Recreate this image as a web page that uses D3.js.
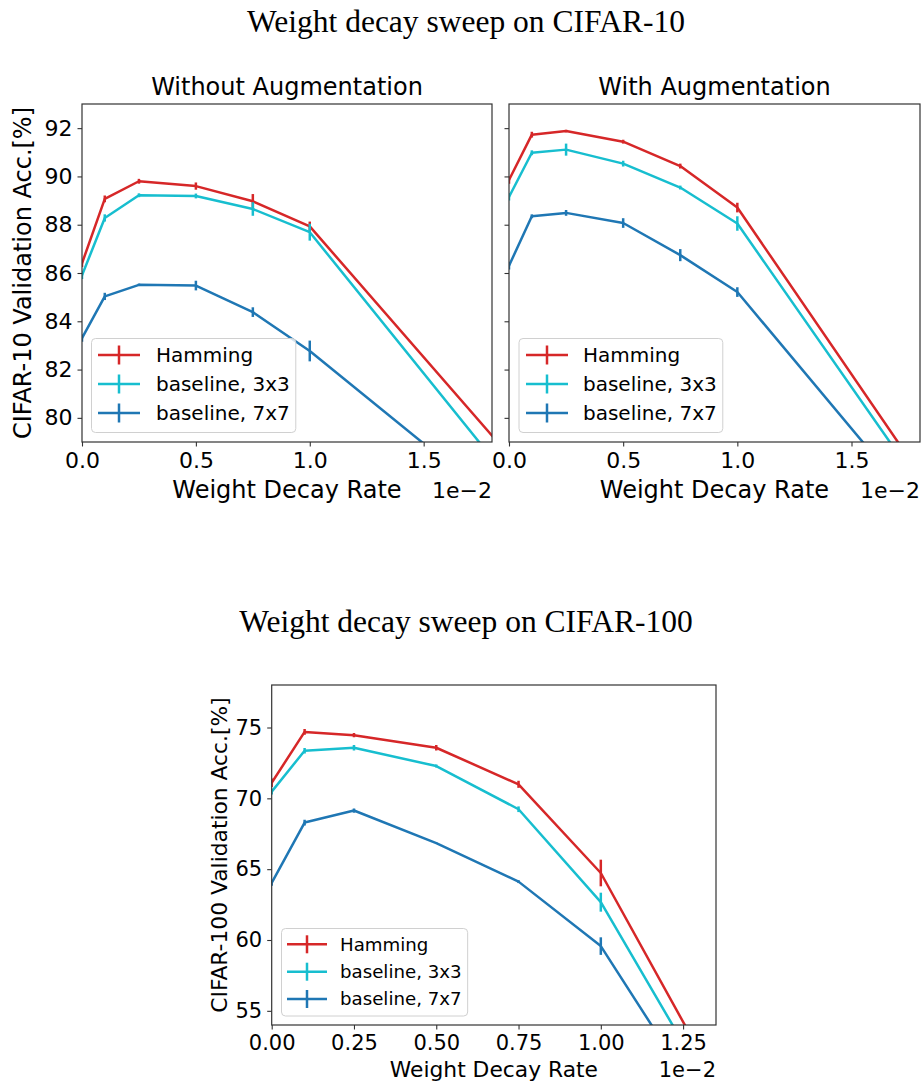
<!DOCTYPE html>
<html>
<head>
<meta charset="utf-8">
<script src="https://cdn.jsdelivr.net/npm/d3@7"></script>
<style>
  html, body { margin: 0; padding: 0; background: #fff; }
  svg { display: block; }
  text { font-family: "DejaVu Sans", sans-serif; fill: #000; }
</style>
</head>
<body>
<svg id="chart" width="922" height="1084"></svg>
<script>
// ---------- data (x in units of 1e-2) ----------
const decayRates = [0, 0.1, 0.25, 0.5, 0.75, 1.0, 2.0];
const seriesNames = ["Hamming", "baseline, 3x3", "baseline, 7x7"];
const seriesColors = ["#d62728", "#17becf", "#1f77b4"];

// CIFAR-10, without augmentation
const c10NoAugHamming   = [86.4, 89.07, 89.8, 89.6, 88.97, 87.93, 77.1];
const c10NoAugHammingErr= [0.15, 0.14, 0.1, 0.15, 0.3, 0.2, 0];
const c10NoAug3x3       = [85.9, 88.28, 89.22, 89.19, 88.65, 87.69, 76.0];
const c10NoAug3x3Err    = [0.15, 0.15, 0.08, 0.1, 0.28, 0.35, 0];
const c10NoAug7x7       = [83.3, 85.03, 85.51, 85.48, 84.38, 82.77, 75.1];
const c10NoAug7x7Err    = [0.15, 0.15, 0.05, 0.2, 0.2, 0.43, 0];

// CIFAR-10, with augmentation
const c10AugHamming     = [89.85, 91.73, 91.88, 91.44, 90.43, 88.71, 74.9];
const c10AugHammingErr  = [0.15, 0.12, 0.05, 0.08, 0.1, 0.2, 0];
const c10Aug3x3         = [89.15, 90.98, 91.11, 90.53, 89.54, 88.05, 74.5];
const c10Aug3x3Err      = [0.15, 0.1, 0.25, 0.12, 0.08, 0.3, 0];
const c10Aug7x7         = [86.3, 88.35, 88.49, 88.07, 86.74, 85.21, 73.9];
const c10Aug7x7Err      = [0.15, 0.08, 0.12, 0.2, 0.25, 0.2, 0];

// CIFAR-100
const c100Hamming       = [71.1, 74.69, 74.46, 73.57, 70.99, 64.73, 22.7];
const c100HammingErr    = [0.3, 0.2, 0.15, 0.2, 0.25, 0.94, 0];
const c1003x3           = [70.47, 73.36, 73.57, 72.28, 69.23, 62.67, 22.9];
const c1003x3Err        = [0.2, 0.2, 0.2, 0.1, 0.2, 0.67, 0];
const c1007x7           = [64.03, 68.29, 69.14, 66.84, 64.12, 59.57, 23.4];
const c1007x7Err        = [0.2, 0.2, 0.15, 0.05, 0.1, 0.62, 0];

const c10XTicks = [0, 0.5, 1.0, 1.5];
const c10YTicks = [80, 82, 84, 86, 88, 90, 92];
const c100XTicks = [0, 0.25, 0.5, 0.75, 1.0, 1.25];
const c100YTicks = [55, 60, 65, 70, 75];

const mainTitles = ["Weight decay sweep on CIFAR-10", "Weight decay sweep on CIFAR-100"];
const panelTitles = ["Without Augmentation", "With Augmentation"];
const xLabel = "Weight Decay Rate";
const offsetText = "1e\u22122";
const c10YLabel = "CIFAR-10 Validation Acc.[%]";
const c100YLabel = "CIFAR-100 Validation Acc.[%]";

// ---------- drawing ----------
const svg = d3.select("#chart");
let clipId = 0;
const LW = 2.5;

function drawPanel(cfg) {
  const { left, right, top, bottom, xDomain, yDomain, xTicks, yTicks, xFmt,
          showYLabels, series, fs, legend } = cfg;
  const x = d3.scaleLinear().domain(xDomain).range([left, right]);
  const y = d3.scaleLinear().domain(yDomain).range([bottom, top]);
  const g = svg.append("g");
  const id = "clip" + (clipId++);
  svg.append("defs").append("clipPath").attr("id", id)
    .append("rect").attr("x", left).attr("y", top)
    .attr("width", right - left).attr("height", bottom - top);

  const plot = g.append("g").attr("clip-path", `url(#${id})`);
  const line = d3.line().x(d => x(d[0])).y(d => y(d[1]));
  series.forEach(s => {
    const pts = decayRates.map((r, i) => [r, s.values[i], s.err[i]]);
    plot.append("path").datum(pts).attr("d", line)
      .attr("fill", "none").attr("stroke", s.color).attr("stroke-width", LW)
      .attr("stroke-linejoin", "round");
    plot.selectAll(null).data(pts.filter(p => p[2] > 0)).enter().append("line")
      .attr("x1", d => x(d[0])).attr("x2", d => x(d[0]))
      .attr("y1", d => y(d[1] - d[2])).attr("y2", d => y(d[1] + d[2]))
      .attr("stroke", s.color).attr("stroke-width", LW);
  });

  // axes
  const xAxis = d3.axisBottom(x).tickValues(xTicks).tickFormat(d3.format(xFmt))
    .tickSize(4.5).tickPadding(6);
  const gx = g.append("g").attr("transform", `translate(0,${bottom})`).call(xAxis);
  gx.select(".domain").remove();
  gx.selectAll("line").attr("stroke", "#333").attr("stroke-width", 1.1);
  gx.selectAll("text").attr("font-size", fs.tick).attr("font-family", "DejaVu Sans");

  const yAxis = d3.axisLeft(y).tickValues(yTicks).tickSize(4.5).tickPadding(5)
    .tickFormat(showYLabels ? d3.format("d") : () => "");
  const gy = g.append("g").attr("transform", `translate(${left},0)`).call(yAxis);
  gy.select(".domain").remove();
  gy.selectAll("line").attr("stroke", "#333").attr("stroke-width", 1.1);
  gy.selectAll("text").attr("font-size", fs.tick).attr("font-family", "DejaVu Sans");

  g.append("rect").attr("x", left).attr("y", top)
    .attr("width", right - left).attr("height", bottom - top)
    .attr("fill", "none").attr("stroke", "#333").attr("stroke-width", 1.2);

  // labels
  g.append("text").attr("x", (left + right) / 2).attr("y", cfg.xLabelY)
    .attr("text-anchor", "middle").attr("font-size", fs.label).text(xLabel);
  g.append("text").attr("x", right).attr("y", cfg.xLabelY)
    .attr("text-anchor", "end").attr("font-size", fs.tick).text(offsetText);
  if (cfg.yLabel) {
    g.append("text")
      .attr("transform", `translate(${cfg.yLabelX},${(top + bottom) / 2}) rotate(-90)`)
      .attr("text-anchor", "middle").attr("font-size", fs.label).text(cfg.yLabel);
  }
  if (cfg.title) {
    g.append("text").attr("x", (left + right) / 2).attr("y", cfg.titleY)
      .attr("text-anchor", "middle").attr("font-size", fs.label).text(cfg.title);
  }

  // legend
  const L = legend;
  const lg = g.append("g");
  const box = lg.append("rect");
  const texts = [];
  series.forEach((s, i) => {
    const ry = L.rowY[i];
    lg.append("line").attr("x1", L.lineX0).attr("x2", L.lineX1)
      .attr("y1", ry).attr("y2", ry).attr("stroke", s.color).attr("stroke-width", LW);
    lg.append("line").attr("x1", (L.lineX0 + L.lineX1) / 2).attr("x2", (L.lineX0 + L.lineX1) / 2)
      .attr("y1", ry - L.barH).attr("y2", ry + L.barH).attr("stroke", s.color).attr("stroke-width", LW);
    texts.push(lg.append("text").attr("x", L.textX).attr("y", ry).attr("dy", "0.35em")
      .attr("font-size", fs.legend).text(s.name));
  });
  const maxW = d3.max(texts, t => t.node().getComputedTextLength());
  box.attr("x", L.boxX).attr("y", L.boxY0)
    .attr("width", L.textX + maxW + L.padR - L.boxX).attr("height", L.boxY1 - L.boxY0)
    .attr("rx", 4).attr("fill", "#fff").attr("fill-opacity", 0.8)
    .attr("stroke", "#d0d0d0").attr("stroke-width", 1);
}

function mk(vals, errs) {
  return seriesNames.map((n, i) => ({ name: n, color: seriesColors[i], values: vals[i], err: errs[i] }));
}

const topFs = { tick: 22, label: 24, legend: 20 };
const botFs = { tick: 21, label: 21.8, legend: 18.2 };

drawPanel({
  left: 82, right: 492, top: 104, bottom: 442, xDomain: [0, 1.8], yDomain: [79, 93],
  xTicks: c10XTicks, yTicks: c10YTicks, xFmt: ".1f", showYLabels: true,
  series: mk([c10NoAugHamming, c10NoAug3x3, c10NoAug7x7], [c10NoAugHammingErr, c10NoAug3x3Err, c10NoAug7x7Err]),
  fs: topFs, xLabelY: 498, yLabel: c10YLabel, yLabelX: 31, title: panelTitles[0], titleY: 95,
  legend: { boxX: 91.5, boxY0: 338.5, boxY1: 432.5, rowY: [355, 384, 413], lineX0: 98, lineX1: 140,
            barH: 9.5, textX: 156, padR: 6 }
});
drawPanel({
  left: 509, right: 920, top: 104, bottom: 442, xDomain: [0, 1.8], yDomain: [79, 93],
  xTicks: c10XTicks, yTicks: c10YTicks, xFmt: ".1f", showYLabels: false,
  series: mk([c10AugHamming, c10Aug3x3, c10Aug7x7], [c10AugHammingErr, c10Aug3x3Err, c10Aug7x7Err]),
  fs: topFs, xLabelY: 498, yLabel: null, title: panelTitles[1], titleY: 95,
  legend: { boxX: 519, boxY0: 338.5, boxY1: 432.5, rowY: [355, 384, 413], lineX0: 526, lineX1: 568,
            barH: 9.5, textX: 583, padR: 6 }
});
drawPanel({
  left: 271.7, right: 716, top: 685, bottom: 1025, xDomain: [0, 1.35], yDomain: [54, 78],
  xTicks: c100XTicks, yTicks: c100YTicks, xFmt: ".2f", showYLabels: true,
  series: mk([c100Hamming, c1003x3, c1007x7], [c100HammingErr, c1003x3Err, c1007x7Err]),
  fs: botFs, xLabelY: 1077, yLabel: c100YLabel, yLabelX: 227, title: null,
  legend: { boxX: 281.5, boxY0: 928.5, boxY1: 1016, rowY: [944.3, 971.7, 999], lineX0: 287, lineX1: 327,
            barH: 9, textX: 340, padR: 6 }
});

// figure titles (serif)
svg.append("text").attr("x", 466).attr("y", 32).attr("text-anchor", "middle")
  .style("font-family", "'Liberation Serif', serif").attr("font-size", 31.5).text(mainTitles[0]);
svg.append("text").attr("x", 466).attr("y", 632).attr("text-anchor", "middle")
  .style("font-family", "'Liberation Serif', serif").attr("font-size", 31.5).text(mainTitles[1]);
</script>
</body>
</html>
